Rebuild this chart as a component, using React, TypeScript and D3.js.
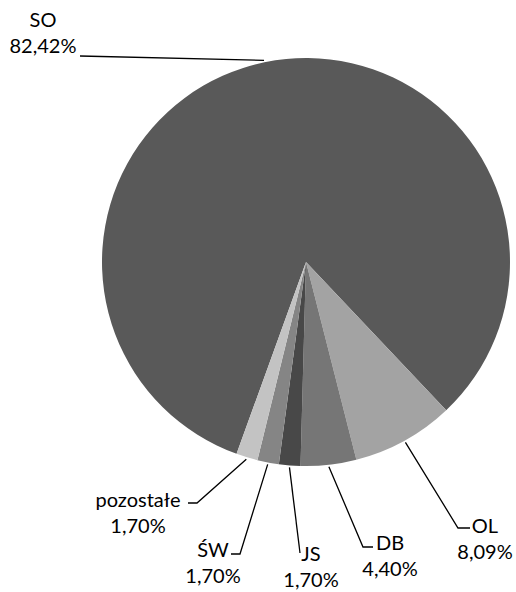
import React, { useEffect, useRef } from "react";
import * as d3 from "d3";

// slice data, in drawing order (clockwise)
const names = ["SO", "OL", "DB", "JS", "ŚW", "pozostałe"];
const shares = [82.42, 8.09, 4.4, 1.7, 1.7, 1.7];
const labels = ["82,42%", "8,09%", "4,40%", "1,70%", "1,70%", "1,70%"];
const colors = ["#595959", "#a3a3a3", "#767676", "#484848", "#858585", "#c3c3c3"];

// manual label layout (like Excel's dragged labels): text centre, first baseline, leader elbow
const labelLayout: Record<string, { x: number; y: number; elbow: [number, number][] }> = {
  SO: { x: 43, y: 27, elbow: [[80, 56]] },
  OL: { x: 485, y: 533, elbow: [[470, 528], [458, 528]] },
  DB: { x: 390, y: 550, elbow: [[373, 547], [363, 547]] },
  JS: { x: 311, y: 561, elbow: [[300, 553]] },
  "ŚW": { x: 213, y: 557, elbow: [[231, 554], [240, 554]] },
  pozostałe: { x: 138, y: 507, elbow: [[188, 503], [197, 503]] },
};

const W = 516;
const H = 592;

const App = () => {
  const svgRef = useRef<SVGSVGElement>(null);

  useEffect(() => {
    const svg = d3.select(svgRef.current);
    svg.selectAll("*").remove();

    const cx = 306;
    const cy = 262;
    const r = 204;
    const start = (-160.1 * Math.PI) / 180;

    const data = names.map((n, i) => ({ name: n, value: shares[i], label: labels[i], color: colors[i] }));

    const pie = d3
      .pie<any>()
      .sort(null)
      .value((d) => d.value)
      .startAngle(start)
      .endAngle(start + 2 * Math.PI);

    const arcs = pie(data);
    const arc = d3.arc<any>().innerRadius(0).outerRadius(r);
    const edge = d3.arc<any>().innerRadius(r + 2).outerRadius(r + 2);

    const g = svg.append("g").attr("transform", `translate(${cx},${cy})`);

    g.selectAll("path.slice")
      .data(arcs)
      .join("path")
      .attr("class", "slice")
      .attr("d", arc)
      .attr("fill", (d) => d.data.color);

    // leader lines
    arcs.forEach((a) => {
      const lay = labelLayout[a.data.name];
      const [ex, ey] = edge.centroid(a);
      const pts: [number, number][] = [[ex + cx, ey + cy]];
      // elbow points listed from label side; go from pie outwards
      const el = lay.elbow.slice().reverse();
      el.forEach((p) => pts.push(p));
      svg
        .append("path")
        .attr("d", d3.line()(pts))
        .attr("fill", "none")
        .attr("stroke", "#000")
        .attr("stroke-width", 1.3);
    });

    // label text
    arcs.forEach((a) => {
      const lay = labelLayout[a.data.name];
      const t = svg
        .append("text")
        .attr("text-anchor", "middle")
        .attr("font-family", "Lato, 'Open Sans', sans-serif")
        .attr("font-size", 20)
        .attr("fill", "#000");
      t.append("tspan").attr("x", lay.x).attr("y", lay.y).text(a.data.name);
      t.append("tspan").attr("x", lay.x).attr("y", lay.y + 26).text(a.data.label);
    });
  }, []);

  return (
    <>
      <style>{`body{margin:0;background:#fff}`}</style>
      <svg ref={svgRef} width={W} height={H} style={{ display: "block" }}></svg>
    </>
  );
};

export default App;
